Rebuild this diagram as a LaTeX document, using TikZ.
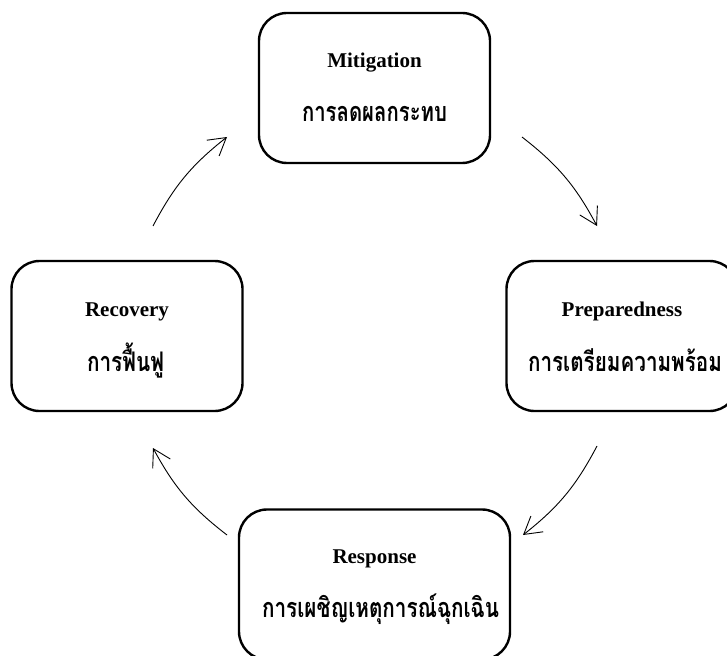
\documentclass[tikz,border=0pt]{standalone}
\usepackage{fontspec}
\setmainfont{Liberation Serif}
\newfontfamily\thaifont[Script=Thai]{Loma}
\usetikzlibrary{arrows.meta}
\tikzset{
  phasebox/.style={draw, line width=2.4pt, rounded corners=28pt, minimum width=231pt, minimum height=150pt, inner sep=0pt},
  entext/.style={anchor=base, inner sep=0pt, font=\fontsize{21}{25}\selectfont\bfseries},
  thtext/.style={anchor=base, inner sep=0pt, font=\fontsize{27}{30}\selectfont\thaifont\bfseries},
  cycarrow/.style={line width=0.9pt, -{Straight Barb[length=17pt,width=20pt,line width=0.9pt]}}
}
\newcommand\thfit[2]{\resizebox{#1}{\height}{#2}}
\begin{document}
\begin{tikzpicture}[x=1pt,y=1pt]
\useasboundingbox (0,0) rectangle (727,-655);
\clip (0,0) rectangle (727,-655);
% boxes
\node[phasebox] (mit) at (374.5,-88) {};
\node[phasebox] (pre) at (622,-336) {};
\node[phasebox] (rec) at (127,-336) {};
\node[phasebox, minimum width=271pt] (res) at (374.5,-584.5) {};
% labels
\node[entext] (mitE) at (374.5,-68) {Mitigation};
\node[thtext] (mitT) at (374.5,-122) {\thfit{145pt}{การลดผลกระทบ}};
\node[entext] (preE) at (622,-316) {Preparedness};
\node[thtext] (preT) at (625,-371) {\thfit{194pt}{การเตรียมความพร้อม}};
\node[entext] (recE) at (127,-316) {Recovery};
\node[thtext] (recT) at (125.5,-371) {\thfit{77pt}{การฟื้นฟู}};
\node[entext] (resE) at (374.5,-563) {Response};
\node[thtext] (resT) at (380.5,-617) {\thfit{237pt}{การเผชิญเหตุการณ์ฉุกเฉิน}};
% arrow ends
\coordinate (a1s) at (153,-226);
\coordinate (a1e) at (227,-137);
\coordinate (a2s) at (522,-137);
\coordinate (a2e) at (597,-226);
\coordinate (a3s) at (597,-446);
\coordinate (a3e) at (523,-535);
\coordinate (a4s) at (227,-535);
\coordinate (a4e) at (153,-448);
\draw[cycarrow] (a1s) to[bend left=12] (a1e);
\draw[cycarrow] (a2s) to[bend left=12] (a2e);
\draw[cycarrow] (a3s) to[bend left=12] (a3e);
\draw[cycarrow] (a4s) to[bend left=12] (a4e);
\end{tikzpicture}
\end{document}
